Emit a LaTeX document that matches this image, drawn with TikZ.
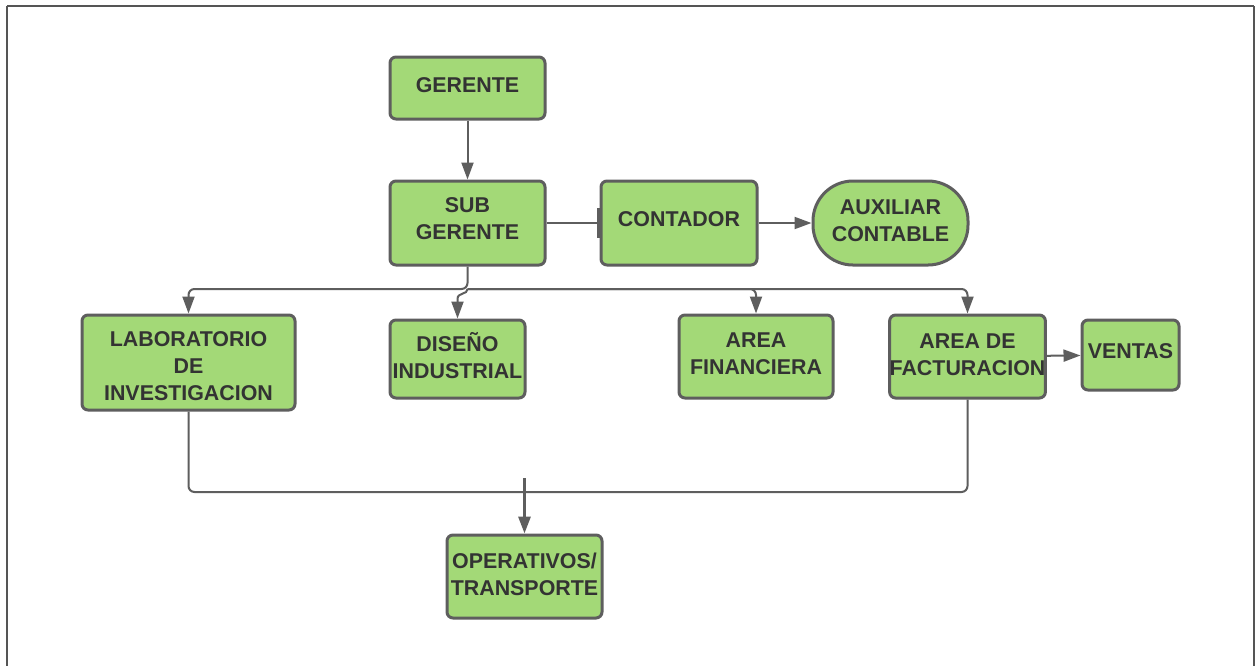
\documentclass[tikz,border=0pt]{standalone}
\usepackage{fontspec}
\setmainfont{Liberation Sans}
\usetikzlibrary{arrows.meta}
\definecolor{boxfill}{HTML}{A3D977}
\definecolor{boxline}{HTML}{5E5E5E}
\definecolor{txt}{HTML}{333333}
\definecolor{frame}{HTML}{555555}
\begin{document}
\begin{tikzpicture}[x=0.5pt,y=-0.5pt,
  box/.style={draw=boxline, fill=boxfill, line width=1.5pt, rounded corners=3pt,
    inner sep=0pt, align=center, text=txt,
    font=\fontsize{10.7pt}{13.6pt}\selectfont\bfseries},
  one/.style={text height=7.66pt, text depth=3.5pt},
  two/.style={text height=21.26pt, text depth=3pt},
  three/.style={text height=38.36pt, text depth=0pt},
  conn/.style={draw=boxline, line width=1pt},
  arr/.style={conn, -{Triangle[length=8.5pt,width=6pt]}}
]
\useasboundingbox (0,0) rectangle (1256,666);
\fill[white] (0,0) rectangle (1256,666);
\draw[frame, line width=1pt] (7,6) -- (1254,6);
\draw[frame, line width=1pt] (7,6) -- (7,666);
\draw[frame, line width=1pt] (1254,6) -- (1254,666);

\node[box, one, minimum width=77.5pt, minimum height=31pt] (ger) at (467.5,88) {GERENTE};
\node[box, two, text depth=5pt, minimum width=77.5pt, minimum height=42pt] (sub) at (467.5,223) {SUB\\GERENTE};
\node[box, one, text depth=4pt, minimum width=78pt, minimum height=42pt] (con) at (679,223) {CONTADOR};
\node[box, two, rounded corners=20pt, minimum width=77.5pt, minimum height=42pt] (aux) at (890.5,223) {AUXILIAR\\CONTABLE};
\node[box, three, minimum width=106.5pt, minimum height=47.5pt] (lab) at (188.5,362.5) {LABORATORIO\\DE\\INVESTIGACION};
\node[box, two, text depth=2pt, minimum width=67.5pt, minimum height=39pt] (dis) at (457.5,359) {DISEÑO\\INDUSTRIAL};
\node[box, two, minimum width=77pt, minimum height=41.5pt] (fin) at (756,356.5) {AREA\\FINANCIERA};
\node[box, two, text depth=2.5pt, minimum width=77.5pt, minimum height=41.5pt] (fac) at (967.5,356.5) {AREA DE\\FACTURACION};
\node[box, one, text depth=4pt, minimum width=48.5pt, minimum height=35pt] (ven) at (1130.5,355) {VENTAS};
\node[box, two, text depth=2.5pt, minimum width=77.5pt, minimum height=41.5pt] (op) at (524.5,576.5) {OPERATIVOS/\\TRANSPORTE};

\coordinate (hub) at (467.5,289);
\coordinate (jog) at (457.5,299);
\coordinate (ost) at (524.5,478);

\draw[arr] (ger) -- (sub);
\draw[conn, -{Bar[width=15pt,line width=1.5pt]}] (sub.east) -- (con.west);
\draw[arr] (con) -- (aux);
\draw[arr] (fac) -- (ven);

\draw[arr, rounded corners=3pt] (sub.south) -- (hub) -| (lab.north);
\draw[arr, rounded corners=3pt] (hub) -| (fin.north);
\draw[arr, rounded corners=3pt] (hub) -| (fac.north);
\draw[arr] (hub) .. controls (467.5,295) and (457.5,292) .. (jog) -- (dis.north);

\draw[conn, rounded corners=3pt] (lab.south) |- (fac.south |- 0,492) -- (fac.south);
\draw[arr, line width=1.5pt] (ost) -- (op.north);
\end{tikzpicture}
\end{document}
